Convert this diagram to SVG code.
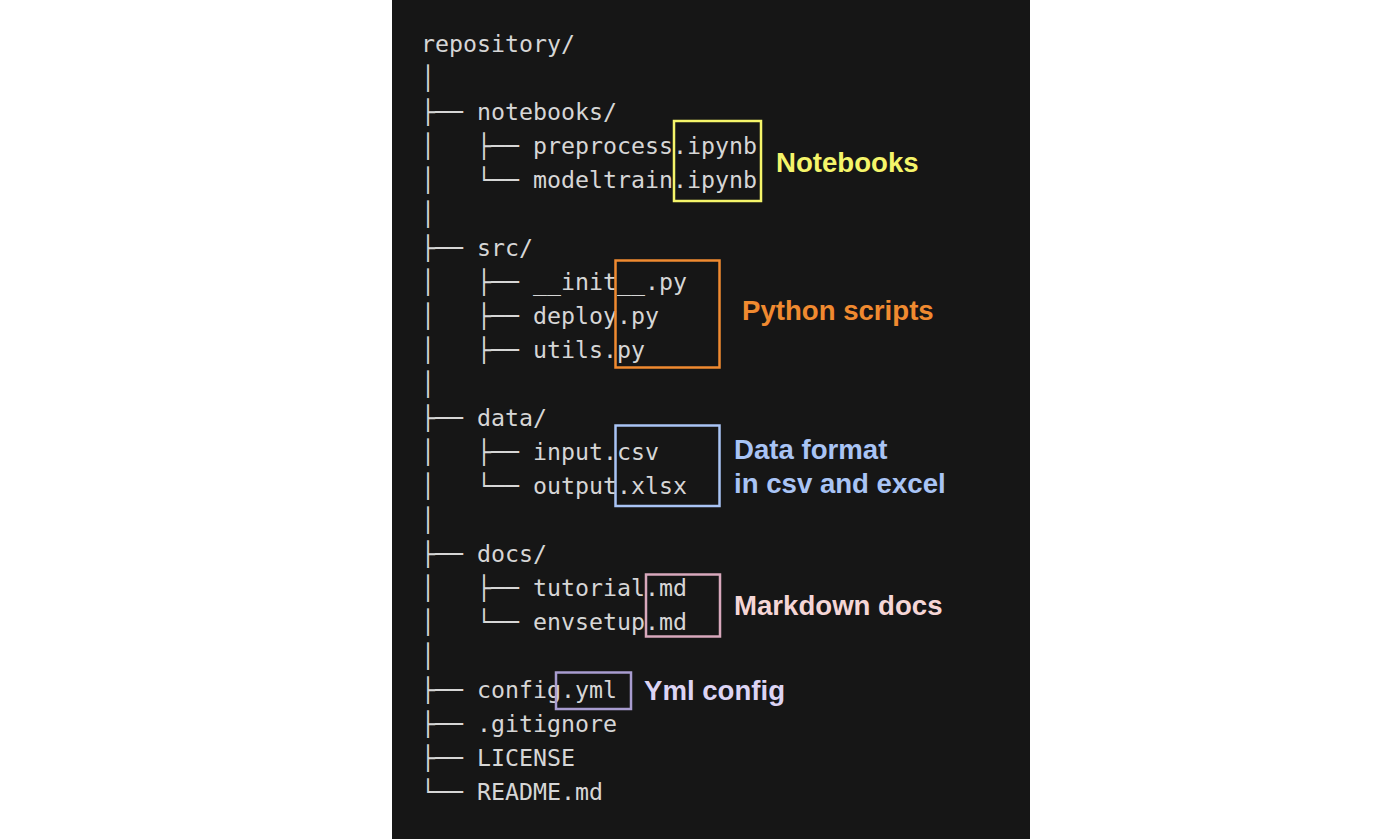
<svg xmlns="http://www.w3.org/2000/svg" width="1400" height="839" viewBox="0 0 1400 839">
<style>
.t{font-family:"DejaVu Sans Mono","Liberation Mono",monospace;font-size:23.26px;fill:#d6d6d6;white-space:pre}
.lab{font-family:"Liberation Sans",Arial,sans-serif;font-weight:bold;font-size:27.6px}
.box{fill:none;stroke-width:2.5}
</style>
<rect x="0" y="0" width="1400" height="839" fill="#ffffff"/>
<rect x="392" y="0" width="638" height="839" fill="#161616"/>
<g id="tree">
<text class="t" xml:space="preserve" x="421" y="52">repository/</text>
<text class="t" xml:space="preserve" x="421" y="86">│</text>
<text class="t" xml:space="preserve" x="421" y="120">├── notebooks/</text>
<text class="t" xml:space="preserve" x="421" y="154">│   ├── preprocess.ipynb</text>
<text class="t" xml:space="preserve" x="421" y="188">│   └── modeltrain.ipynb</text>
<text class="t" xml:space="preserve" x="421" y="222">│</text>
<text class="t" xml:space="preserve" x="421" y="256">├── src/</text>
<text class="t" xml:space="preserve" x="421" y="290">│   ├── __init__.py</text>
<text class="t" xml:space="preserve" x="421" y="324">│   ├── deploy.py</text>
<text class="t" xml:space="preserve" x="421" y="358">│   ├── utils.py</text>
<text class="t" xml:space="preserve" x="421" y="392">│</text>
<text class="t" xml:space="preserve" x="421" y="426">├── data/</text>
<text class="t" xml:space="preserve" x="421" y="460">│   ├── input.csv</text>
<text class="t" xml:space="preserve" x="421" y="494">│   └── output.xlsx</text>
<text class="t" xml:space="preserve" x="421" y="528">│</text>
<text class="t" xml:space="preserve" x="421" y="562">├── docs/</text>
<text class="t" xml:space="preserve" x="421" y="596">│   ├── tutorial.md</text>
<text class="t" xml:space="preserve" x="421" y="630">│   └── envsetup.md</text>
<text class="t" xml:space="preserve" x="421" y="664">│</text>
<text class="t" xml:space="preserve" x="421" y="698">├── config.yml</text>
<text class="t" xml:space="preserve" x="421" y="732">├── .gitignore</text>
<text class="t" xml:space="preserve" x="421" y="766">├── LICENSE</text>
<text class="t" xml:space="preserve" x="421" y="800">└── README.md</text>
</g>
<g id="notebooks">
<rect class="box" x="674" y="121" width="87" height="80" stroke="#f5f56a"/>
<text class="lab" x="776" y="172" fill="#f5f56a">Notebooks</text>
</g>
<g id="python">
<rect class="box" x="615.5" y="260.5" width="104" height="107" stroke="#f08a30"/>
<text class="lab" x="742" y="320" fill="#f08a30">Python scripts</text>
</g>
<g id="data">
<rect class="box" x="615.5" y="425.5" width="104" height="80.5" stroke="#a9c4f5"/>
<text class="lab" x="734" y="459" fill="#a9c4f5">Data format</text>
<text class="lab" x="734" y="493" fill="#a9c4f5">in csv and excel</text>
</g>
<g id="markdown">
<rect class="box" x="646" y="574.5" width="74" height="62" stroke="#d8a8bc"/>
<text class="lab" x="734" y="615" fill="#f5d6d6">Markdown docs</text>
</g>
<g id="yml">
<rect class="box" x="556" y="672.5" width="75" height="36.5" stroke="#a89cd0"/>
<text class="lab" x="644" y="700" fill="#dcd4f4">Yml config</text>
</g>
<g id="connectors"></g>
</svg>
